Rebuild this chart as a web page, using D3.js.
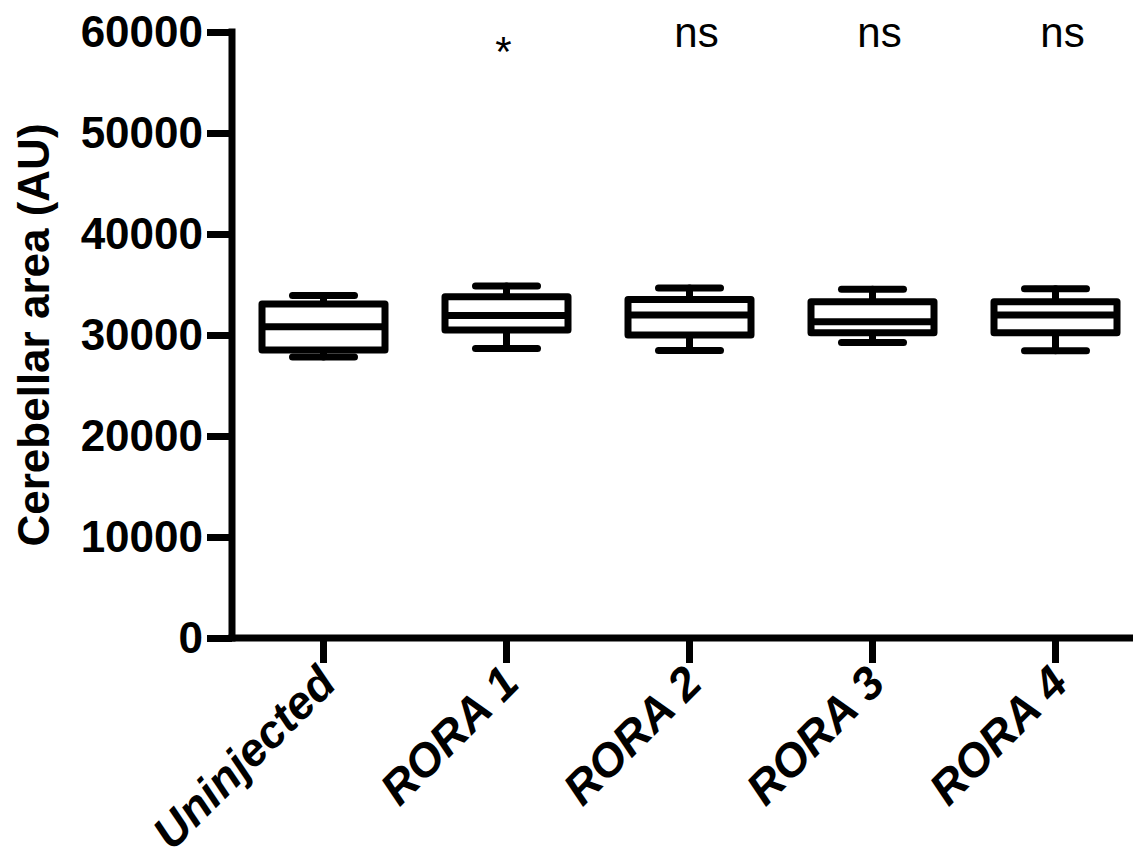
<!DOCTYPE html>
<html><head><meta charset="utf-8">
<script src="https://cdn.jsdelivr.net/npm/d3@7"></script>
<style>body{margin:0;background:#fff}svg{display:block}</style>
</head><body>
<script>
const categories = ["Uninjected", "RORA 1", "RORA 2", "RORA 3", "RORA 4"];
const whiskerMax = [33910, 34850, 34650, 34530, 34570];
const q3 = [33070, 33790, 33510, 33300, 33300];
const medians = [30820, 31930, 31980, 31320, 31980];
const q1 = [28510, 30500, 30000, 30230, 30230];
const whiskerMin = [27820, 28660, 28470, 29260, 28440];
const significance = ["", "*", "ns", "ns", "ns"];
const yTicks = [0, 10000, 20000, 30000, 40000, 50000, 60000];

const W = 1133, H = 862;
const font = "'Liberation Sans', Arial, sans-serif";
const svg = d3.select("body").append("svg").attr("width", W).attr("height", H);

const x = d3.scaleBand().domain(categories).range([232, 1147]).paddingInner(0).paddingOuter(0);
const y = d3.scaleLinear().domain([0, 60000]).range([638, 32]);
const SW = 7;

// Y axis
const yAxis = svg.append("g").attr("transform", "translate(232,0)")
  .call(d3.axisLeft(y).tickValues(yTicks).tickSize(25).tickPadding(4).tickFormat(d3.format("d")));
yAxis.select(".domain").remove();
yAxis.selectAll(".tick line").attr("stroke", "#000").attr("stroke-width", SW);
yAxis.selectAll(".tick text").attr("font-family", font).attr("font-size", 44).attr("font-weight", "bold").attr("fill", "#000");
svg.append("line").attr("x1", 232).attr("x2", 232).attr("y1", y(60000) - SW/2).attr("y2", y(0) + SW/2)
  .attr("stroke", "#000").attr("stroke-width", SW);

// X axis
const xAxis = svg.append("g").attr("transform", `translate(0,${y(0)})`)
  .call(d3.axisBottom(x).tickSize(25).tickFormat(""));
xAxis.select(".domain").remove();
xAxis.selectAll(".tick line").attr("stroke", "#000").attr("stroke-width", SW);
svg.append("line").attr("x1", 232 - SW/2).attr("x2", 1147).attr("y1", y(0)).attr("y2", y(0))
  .attr("stroke", "#000").attr("stroke-width", SW);

// X labels
svg.append("g").selectAll("text").data(categories).join("text")
  .attr("transform", d => `translate(${x(d) + x.bandwidth()/2 - 8},${y(0) + 25}) rotate(-45)`)
  .attr("text-anchor", "end").attr("dy", "0.7em")
  .attr("font-family", font).attr("font-size", 46).attr("font-weight", "bold").attr("font-style", "italic")
  .text(d => d);

// Y title
svg.append("text").attr("transform", `translate(49,335) rotate(-90)`)
  .attr("text-anchor", "middle")
  .attr("font-family", font).attr("font-size", 44).attr("font-weight", "bold")
  .text("Cerebellar area (AU)");

// Boxes
const boxW = 123, capW = 62;
const g = svg.append("g").attr("stroke", "#000").attr("stroke-width", SW).attr("fill", "none")
  .attr("stroke-linejoin", "round").attr("stroke-linecap", "round");
categories.forEach((c, i) => {
  const cx = x(c) + x.bandwidth()/2;
  g.append("line").attr("x1", cx).attr("x2", cx).attr("y1", y(whiskerMax[i])).attr("y2", y(q3[i]));
  g.append("line").attr("x1", cx).attr("x2", cx).attr("y1", y(q1[i])).attr("y2", y(whiskerMin[i]));
  g.append("line").attr("x1", cx - capW/2).attr("x2", cx + capW/2).attr("y1", y(whiskerMax[i])).attr("y2", y(whiskerMax[i]));
  g.append("line").attr("x1", cx - capW/2).attr("x2", cx + capW/2).attr("y1", y(whiskerMin[i])).attr("y2", y(whiskerMin[i]));
  g.append("rect").attr("x", cx - boxW/2).attr("width", boxW).attr("y", y(q3[i])).attr("height", y(q1[i]) - y(q3[i])).attr("fill", "#fff");
  g.append("line").attr("x1", cx - boxW/2).attr("x2", cx + boxW/2).attr("y1", y(medians[i])).attr("y2", y(medians[i])).attr("stroke-linecap", "butt");
});

// Significance labels
svg.append("g").selectAll("text").data(categories).join("text")
  .attr("x", (d, i) => x(d) + x.bandwidth()/2 + (significance[i] === "*" ? -3 : 7))
  .attr("y", (d, i) => significance[i] === "*" ? 66 : 47)
  .attr("text-anchor", "middle")
  .attr("font-family", font).attr("font-size", 42)
  .text((d, i) => significance[i]);
</script>
</body></html>
